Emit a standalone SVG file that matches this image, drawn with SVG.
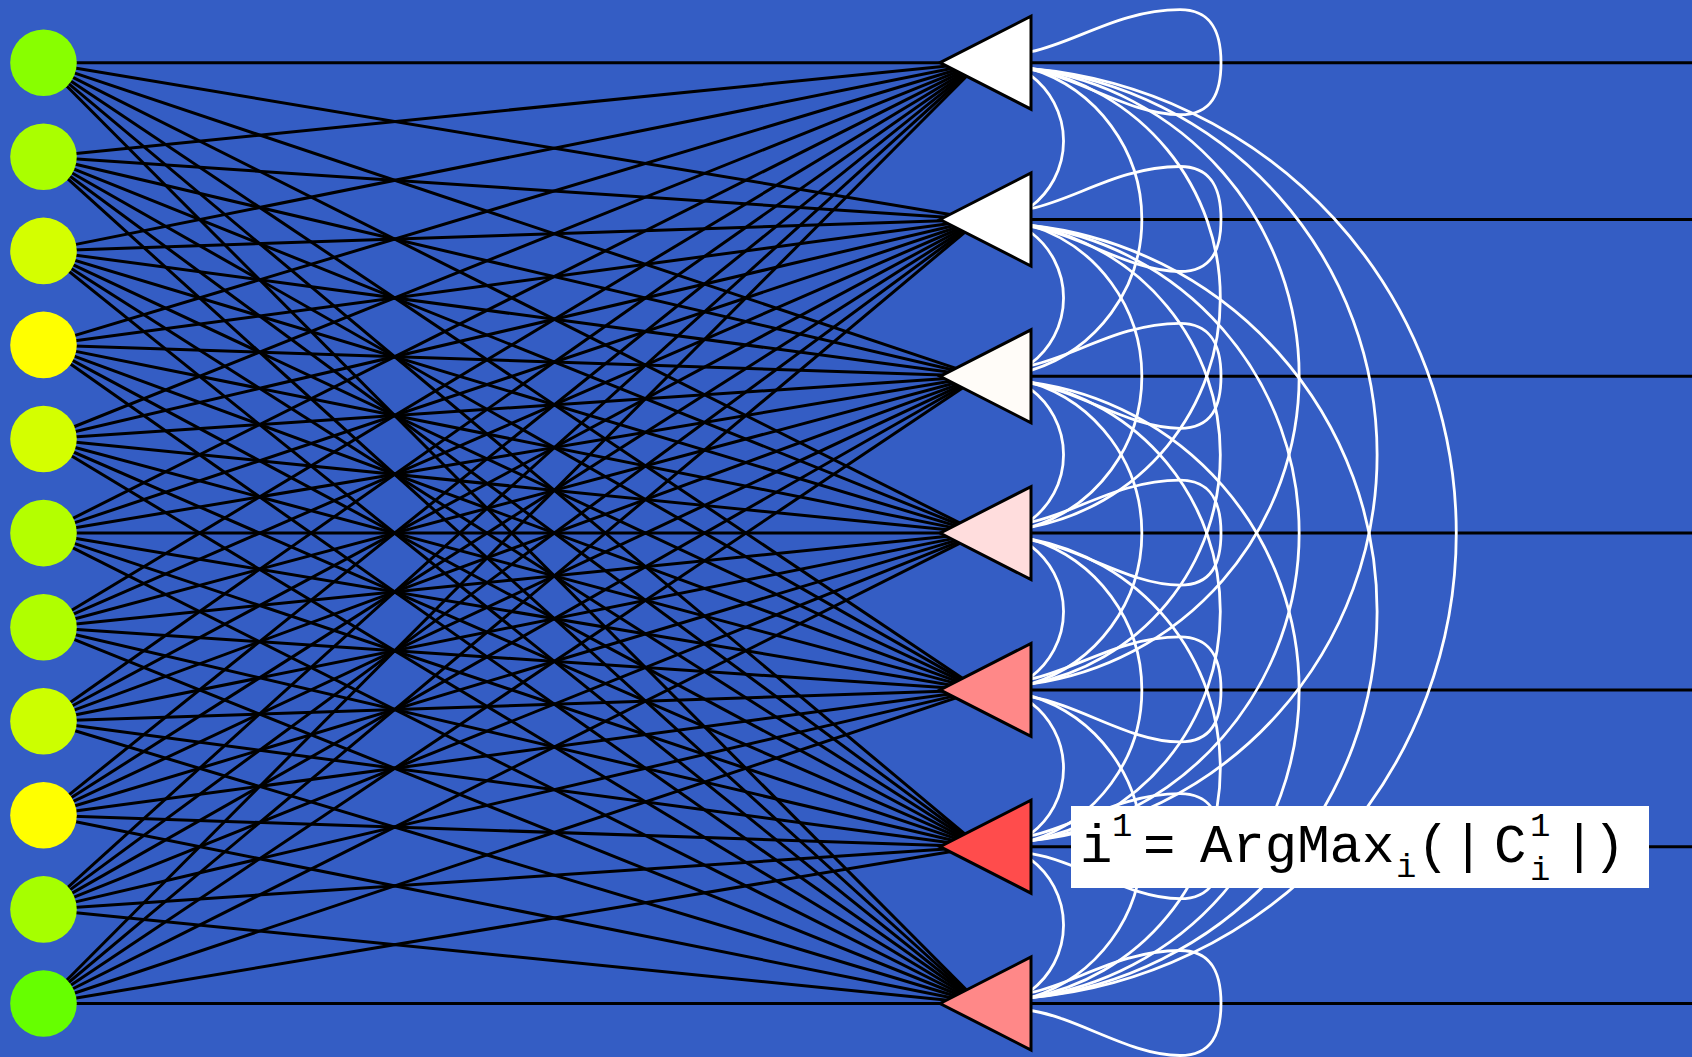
<svg xmlns="http://www.w3.org/2000/svg" width="1692" height="1057" viewBox="0 0 1692 1057">
<style>
.bg{fill:#345dc4}
.in line{stroke:#000;stroke-width:3}
.out line{stroke:#000;stroke-width:3}
.lat path,.lat use{fill:none;stroke:#fff;stroke-width:2.8}
.tri{stroke:#000;stroke-width:3;stroke-linejoin:miter}
.lbl{font-family:"Liberation Mono","DejaVu Sans Mono",monospace;fill:#000}
.big{font-size:54px}
.small{font-size:34px}
</style>
<defs>
<path id="loop" d="M1031,-11 C1075,-20 1120,-53 1180,-53 C1212,-53 1221,-30 1221,0 C1221,30 1212,52 1180,52 C1130,52 1080,15 1031,7"/>
<polygon id="tri" points="940,0 1031,-46.5 1031,46.5"/>
</defs>
<rect class="bg" x="0" y="0" width="1692" height="1057"/>
<g id="connectors">
<g class="in">
<line x1="43.5" y1="62.7" x2="980" y2="62.7"/><line x1="43.5" y1="62.7" x2="980" y2="219.5"/><line x1="43.5" y1="62.7" x2="980" y2="376.3"/><line x1="43.5" y1="62.7" x2="980" y2="533.1"/><line x1="43.5" y1="62.7" x2="980" y2="689.9"/><line x1="43.5" y1="62.7" x2="980" y2="846.7"/><line x1="43.5" y1="62.7" x2="980" y2="1003.5"/>
<line x1="43.5" y1="156.8" x2="980" y2="62.7"/><line x1="43.5" y1="156.8" x2="980" y2="219.5"/><line x1="43.5" y1="156.8" x2="980" y2="376.3"/><line x1="43.5" y1="156.8" x2="980" y2="533.1"/><line x1="43.5" y1="156.8" x2="980" y2="689.9"/><line x1="43.5" y1="156.8" x2="980" y2="846.7"/><line x1="43.5" y1="156.8" x2="980" y2="1003.5"/>
<line x1="43.5" y1="250.9" x2="980" y2="62.7"/><line x1="43.5" y1="250.9" x2="980" y2="219.5"/><line x1="43.5" y1="250.9" x2="980" y2="376.3"/><line x1="43.5" y1="250.9" x2="980" y2="533.1"/><line x1="43.5" y1="250.9" x2="980" y2="689.9"/><line x1="43.5" y1="250.9" x2="980" y2="846.7"/><line x1="43.5" y1="250.9" x2="980" y2="1003.5"/>
<line x1="43.5" y1="344.9" x2="980" y2="62.7"/><line x1="43.5" y1="344.9" x2="980" y2="219.5"/><line x1="43.5" y1="344.9" x2="980" y2="376.3"/><line x1="43.5" y1="344.9" x2="980" y2="533.1"/><line x1="43.5" y1="344.9" x2="980" y2="689.9"/><line x1="43.5" y1="344.9" x2="980" y2="846.7"/><line x1="43.5" y1="344.9" x2="980" y2="1003.5"/>
<line x1="43.5" y1="439" x2="980" y2="62.7"/><line x1="43.5" y1="439" x2="980" y2="219.5"/><line x1="43.5" y1="439" x2="980" y2="376.3"/><line x1="43.5" y1="439" x2="980" y2="533.1"/><line x1="43.5" y1="439" x2="980" y2="689.9"/><line x1="43.5" y1="439" x2="980" y2="846.7"/><line x1="43.5" y1="439" x2="980" y2="1003.5"/>
<line x1="43.5" y1="533.1" x2="980" y2="62.7"/><line x1="43.5" y1="533.1" x2="980" y2="219.5"/><line x1="43.5" y1="533.1" x2="980" y2="376.3"/><line x1="43.5" y1="533.1" x2="980" y2="533.1"/><line x1="43.5" y1="533.1" x2="980" y2="689.9"/><line x1="43.5" y1="533.1" x2="980" y2="846.7"/><line x1="43.5" y1="533.1" x2="980" y2="1003.5"/>
<line x1="43.5" y1="627.2" x2="980" y2="62.7"/><line x1="43.5" y1="627.2" x2="980" y2="219.5"/><line x1="43.5" y1="627.2" x2="980" y2="376.3"/><line x1="43.5" y1="627.2" x2="980" y2="533.1"/><line x1="43.5" y1="627.2" x2="980" y2="689.9"/><line x1="43.5" y1="627.2" x2="980" y2="846.7"/><line x1="43.5" y1="627.2" x2="980" y2="1003.5"/>
<line x1="43.5" y1="721.3" x2="980" y2="62.7"/><line x1="43.5" y1="721.3" x2="980" y2="219.5"/><line x1="43.5" y1="721.3" x2="980" y2="376.3"/><line x1="43.5" y1="721.3" x2="980" y2="533.1"/><line x1="43.5" y1="721.3" x2="980" y2="689.9"/><line x1="43.5" y1="721.3" x2="980" y2="846.7"/><line x1="43.5" y1="721.3" x2="980" y2="1003.5"/>
<line x1="43.5" y1="815.3" x2="980" y2="62.7"/><line x1="43.5" y1="815.3" x2="980" y2="219.5"/><line x1="43.5" y1="815.3" x2="980" y2="376.3"/><line x1="43.5" y1="815.3" x2="980" y2="533.1"/><line x1="43.5" y1="815.3" x2="980" y2="689.9"/><line x1="43.5" y1="815.3" x2="980" y2="846.7"/><line x1="43.5" y1="815.3" x2="980" y2="1003.5"/>
<line x1="43.5" y1="909.4" x2="980" y2="62.7"/><line x1="43.5" y1="909.4" x2="980" y2="219.5"/><line x1="43.5" y1="909.4" x2="980" y2="376.3"/><line x1="43.5" y1="909.4" x2="980" y2="533.1"/><line x1="43.5" y1="909.4" x2="980" y2="689.9"/><line x1="43.5" y1="909.4" x2="980" y2="846.7"/><line x1="43.5" y1="909.4" x2="980" y2="1003.5"/>
<line x1="43.5" y1="1003.5" x2="980" y2="62.7"/><line x1="43.5" y1="1003.5" x2="980" y2="219.5"/><line x1="43.5" y1="1003.5" x2="980" y2="376.3"/><line x1="43.5" y1="1003.5" x2="980" y2="533.1"/><line x1="43.5" y1="1003.5" x2="980" y2="689.9"/><line x1="43.5" y1="1003.5" x2="980" y2="846.7"/><line x1="43.5" y1="1003.5" x2="980" y2="1003.5"/>
</g>
<g class="out">
<line x1="1031" y1="62.7" x2="1692" y2="62.7"/>
<line x1="1031" y1="219.5" x2="1692" y2="219.5"/>
<line x1="1031" y1="376.3" x2="1692" y2="376.3"/>
<line x1="1031" y1="533.1" x2="1692" y2="533.1"/>
<line x1="1031" y1="689.9" x2="1692" y2="689.9"/>
<line x1="1031" y1="846.7" x2="1692" y2="846.7"/>
<line x1="1031" y1="1003.5" x2="1692" y2="1003.5"/>
</g>
<g class="lat">
<use href="#loop" y="62.7"/>
<use href="#loop" y="219.5"/>
<use href="#loop" y="376.3"/>
<use href="#loop" y="533.1"/>
<use href="#loop" y="689.9"/>
<use href="#loop" y="846.7"/>
<use href="#loop" y="1003.5"/>
<path d="M1031,75.7 A82,82 0 0 1 1031,206.5"/>
<path d="M1031,232.5 A82,82 0 0 1 1031,363.3"/>
<path d="M1031,389.3 A82,82 0 0 1 1031,520.1"/>
<path d="M1031,546.1 A82,82 0 0 1 1031,676.9"/>
<path d="M1031,702.9 A82,82 0 0 1 1031,833.7"/>
<path d="M1031,859.7 A82,82 0 0 1 1031,990.5"/>
<path d="M1031,68.7 A158,158 0 0 1 1031,370.3"/>
<path d="M1031,225.5 A158,158 0 0 1 1031,527.1"/>
<path d="M1031,382.3 A158,158 0 0 1 1031,683.9"/>
<path d="M1031,539.1 A158,158 0 0 1 1031,840.7"/>
<path d="M1031,695.9 A158,158 0 0 1 1031,997.5"/>
<path d="M1031,68.7 A233.4,233.4 0 0 1 1031,527.1"/>
<path d="M1031,225.5 A233.4,233.4 0 0 1 1031,683.9"/>
<path d="M1031,382.3 A233.4,233.4 0 0 1 1031,840.7"/>
<path d="M1031,539.1 A233.4,233.4 0 0 1 1031,997.5"/>
<path d="M1031,68.7 A310.5,310.5 0 0 1 1031,683.9"/>
<path d="M1031,225.5 A310.5,310.5 0 0 1 1031,840.7"/>
<path d="M1031,382.3 A310.5,310.5 0 0 1 1031,997.5"/>
<path d="M1031,68.7 A388.3,388.3 0 0 1 1031,840.7"/>
<path d="M1031,225.5 A388.3,388.3 0 0 1 1031,997.5"/>
<path d="M1031,68.7 A466.2,466.2 0 0 1 1031,997.5"/>
</g>
</g>
<g id="inputs">
<g id="in1"><circle cx="43.5" cy="62.7" r="33.3" fill="#88ff00"/></g>
<g id="in2"><circle cx="43.5" cy="156.8" r="33.3" fill="#aaff00"/></g>
<g id="in3"><circle cx="43.5" cy="250.9" r="33.3" fill="#d4ff00"/></g>
<g id="in4"><circle cx="43.5" cy="344.9" r="33.3" fill="#ffff00"/></g>
<g id="in5"><circle cx="43.5" cy="439" r="33.3" fill="#d4ff00"/></g>
<g id="in6"><circle cx="43.5" cy="533.1" r="33.3" fill="#b4ff00"/></g>
<g id="in7"><circle cx="43.5" cy="627.2" r="33.3" fill="#b0ff00"/></g>
<g id="in8"><circle cx="43.5" cy="721.3" r="33.3" fill="#ccff00"/></g>
<g id="in9"><circle cx="43.5" cy="815.3" r="33.3" fill="#ffff00"/></g>
<g id="in10"><circle cx="43.5" cy="909.4" r="33.3" fill="#a6ff00"/></g>
<g id="in11"><circle cx="43.5" cy="1003.5" r="33.3" fill="#66ff00"/></g>
</g>
<g id="outputs">
<g id="out1"><use href="#tri" class="tri" y="62.7" fill="#ffffff"/></g>
<g id="out2"><use href="#tri" class="tri" y="219.5" fill="#ffffff"/></g>
<g id="out3"><use href="#tri" class="tri" y="376.3" fill="#fffcf8"/></g>
<g id="out4"><use href="#tri" class="tri" y="533.1" fill="#ffdddd"/></g>
<g id="out5"><use href="#tri" class="tri" y="689.9" fill="#ff8888"/></g>
<g id="out6"><use href="#tri" class="tri" y="846.7" fill="#ff4c4c"/></g>
<g id="out7"><use href="#tri" class="tri" y="1003.5" fill="#ff8888"/></g>
</g>
<g id="label">
<rect x="1071" y="806" width="578" height="82" fill="#ffffff"/>
<text class="lbl"><tspan class="big" x="1080" y="862">i</tspan><tspan class="small" x="1112" y="836">1</tspan><tspan class="big" x="1143" y="862">=</tspan><tspan class="big" x="1200" y="862">ArgMax</tspan><tspan class="small" x="1396" y="877">i</tspan><tspan class="big" x="1417" y="862">(</tspan><tspan class="big" x="1452" y="862">|</tspan><tspan class="big" x="1494" y="862">C</tspan><tspan class="small" x="1530" y="836">1</tspan><tspan class="small" x="1530" y="880">i</tspan><tspan class="big" x="1563" y="862">|</tspan><tspan class="big" x="1593" y="862">)</tspan></text>
</g>
</svg>
